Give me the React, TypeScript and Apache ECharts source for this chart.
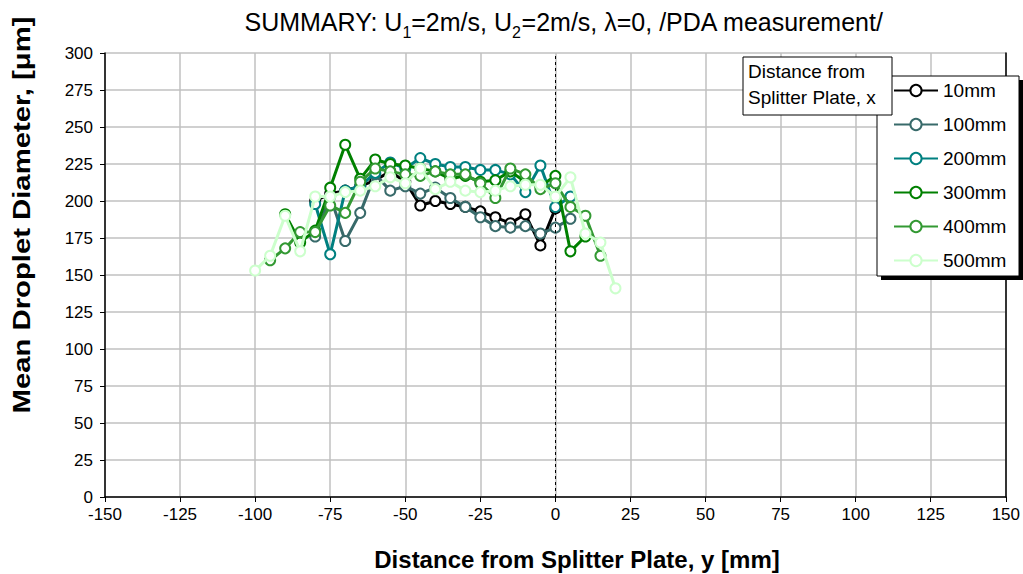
import React, { useEffect, useRef } from "react";
import * as echarts from "echarts";

const seriesNames = ["10mm", "100mm", "200mm", "300mm", "400mm", "500mm"];
const seriesColors = ["#000000", "#386a6a", "#008080", "#008000", "#339933", "#ccffcc"];

const x10 = [-80, -75, -70, -65, -60, -55, -50, -45, -40, -35, -30, -25, -20, -15, -10, -5, 0];
const y10 = [200, 205, 207, 210, 214, 220, 213, 197, 200, 198, 196, 193, 189, 185, 191, 170, 195];

const x100 = [-80, -75, -70, -65, -60, -55, -50, -45, -40, -35, -30, -25, -20, -15, -10, -5, 0, 5];
const y100 = [176, 203, 173, 192, 218, 207, 210, 205, 209, 202, 196, 189, 183, 182, 183, 178, 182, 188];

const x200 = [-80, -75, -70, -65, -60, -55, -50, -45, -40, -35, -30, -25, -20, -15, -10, -5, 0, 5];
const y200 = [198, 164, 207, 210, 219, 226, 222, 229, 225, 223, 223, 221, 221, 218, 206, 224, 196, 203];

const x300 = [-90, -85, -80, -75, -70, -65, -60, -55, -50, -45, -40, -35, -30, -25, -20, -15, -10, -5, 0, 5, 10];
const y300 = [191, 172, 180, 209, 238, 215, 228, 225, 224, 222, 220, 215, 217, 213, 214, 220, 213, 210, 217, 166, 176];

const x400 = [-95, -90, -85, -80, -75, -70, -65, -60, -55, -50, -45, -40, -35, -30, -25, -20, -15, -10, -5, 0, 5, 10, 15];
const y400 = [160, 168, 179, 179, 197, 192, 213, 222, 220, 218, 217, 220, 218, 218, 212, 202, 222, 218, 208, 212, 196, 190, 163];

const x500 = [-100, -95, -90, -85, -80, -75, -70, -65, -60, -55, -50, -45, -40, -35, -30, -25, -20, -15, -10, -5, 0, 5, 10, 15, 20];
const y500 = [153, 163, 190, 166, 203, 203, 206, 207, 210, 216, 212, 222, 208, 213, 207, 206, 207, 210, 211, 211, 203, 216, 178, 172, 141];

const seriesX = [x10, x100, x200, x300, x400, x500];
const seriesY = [y10, y100, y200, y300, y400, y500];

const xMin = -150, xMax = 150, xStep = 25;
const yMin = 0, yMax = 300, yStep = 25;

const FONT = "'Liberation Sans', Arial, sans-serif";

export default function App() {
  const ref = useRef<HTMLDivElement>(null);
  useEffect(() => {
    if (!ref.current) return;
    const chart = echarts.init(ref.current, null, { renderer: "svg" });
    const series: any[] = seriesNames.map((name, i) => ({
      name,
      type: "line",
      data: seriesX[i].map((x, j) => [x, seriesY[i][j]]),
      symbol: "circle",
      symbolSize: 10,
      color: seriesColors[i],
      lineStyle: { color: seriesColors[i], width: 3 },
      itemStyle: { color: "#ffffff", borderColor: seriesColors[i], borderWidth: 2 },
      z: 3 + i,
    }));
    series[0].markLine = {
      silent: true,
      symbol: ["none", "none"],
      label: { show: false },
      lineStyle: { color: "#000", type: [3, 3], width: 1 },
      data: [{ xAxis: 0 }],
    };
    chart.setOption({
      animation: false,
      textStyle: { fontFamily: FONT },
      grid: { left: 105, right: 9, top: 53, bottom: 77, containLabel: false },
      xAxis: {
        type: "value",
        min: xMin,
        max: xMax,
        interval: xStep,
        axisLine: { show: true, onZero: false, lineStyle: { color: "#000", width: 1.5 } },
        axisTick: { show: true, length: 5, lineStyle: { color: "#000" } },
        axisLabel: { color: "#000", fontSize: 17, fontFamily: FONT, margin: 9 },
        splitLine: { show: true, lineStyle: { color: "#c0c0c0", width: 1.5 } },
      },
      yAxis: [
        {
          type: "value",
          min: yMin,
          max: yMax,
          interval: yStep,
          axisLine: { show: true, onZero: false, lineStyle: { color: "#000", width: 1.5 } },
          axisTick: { show: true, length: 5, lineStyle: { color: "#000" } },
          axisLabel: { color: "#000", fontSize: 17, fontFamily: FONT, margin: 12 },
          splitLine: { show: true, lineStyle: { color: "#c0c0c0", width: 1.5 } },
        },
        {
          type: "value",
          min: yMin,
          max: yMax,
          interval: yStep,
          position: "right",
          axisLine: { show: true, onZero: false, lineStyle: { color: "#000", width: 1.5 } },
          axisTick: { show: false },
          axisLabel: { show: false },
          splitLine: { show: false },
        },
      ],
      legend: {
        orient: "vertical",
        left: 888,
        top: 76,
        itemWidth: 44,
        itemHeight: 14,
        itemGap: 15,
        z: 10,
        textStyle: { color: "#000", fontSize: 19, fontFamily: FONT },
        data: seriesNames,
      },
      graphic: [
        {
          type: "rect",
          z: 5,
          shape: { x: 881, y: 80, width: 142, height: 200 },
          style: { fill: "#000" },
        },
        {
          type: "rect",
          z: 6,
          shape: { x: 877, y: 76, width: 142, height: 200 },
          style: { fill: "#fff", stroke: "#000", lineWidth: 1 },
        },
        {
          type: "rect",
          z: 20,
          shape: { x: 743, y: 57, width: 149, height: 58 },
          style: { fill: "#fff", stroke: "#000", lineWidth: 1 },
        },
        {
          type: "text",
          z: 21,
          x: 748,
          y: 58,
          style: {
            text: "Distance from\nSplitter Plate, x",
            fill: "#000",
            font: `19px ${FONT}`,
            lineHeight: 26,
            align: "left",
            verticalAlign: "top",
          },
        },
        {
          type: "text",
          z: 21,
          x: 564,
          y: 7,
          style: {
            text: "{a|SUMMARY: U}{s|1}{a|=2m/s, U}{s|2}{a|=2m/s, λ=0, /PDA measurement/}",
            align: "center",
            textAlign: "center",
            verticalAlign: "top",
            textVerticalAlign: "top",
            fill: "#000",
            rich: {
              a: { fontSize: 25, fontFamily: FONT, lineHeight: 30, color: "#000" },
              s: { fontSize: 16, fontFamily: FONT, lineHeight: 30, verticalAlign: "bottom", color: "#000", padding: [0, 0, -3, 0] },
            },
          },
        },
        {
          type: "text",
          z: 21,
          x: 577,
          y: 559,
          style: {
            text: "Distance from Splitter Plate, y [mm]",
            align: "center",
            textAlign: "center",
            verticalAlign: "middle",
            textVerticalAlign: "middle",
            fill: "#000",
            font: `bold 24px ${FONT}`,
          },
        },
        {
          type: "text",
          z: 21,
          x: 22,
          y: 215,
          rotation: Math.PI / 2,
          scaleX: 1.22,
          style: {
            text: "Mean Droplet Diameter, [μm]",
            align: "center",
            textAlign: "center",
            verticalAlign: "middle",
            textVerticalAlign: "middle",
            fill: "#000",
            font: `bold 24px ${FONT}`,
          },
        },
      ],
      series,
    });
    return () => chart.dispose();
  }, []);
  return <div ref={ref} style={{ width: 1023, height: 574, position: "absolute", left: 0, top: 0 }} />;
}
